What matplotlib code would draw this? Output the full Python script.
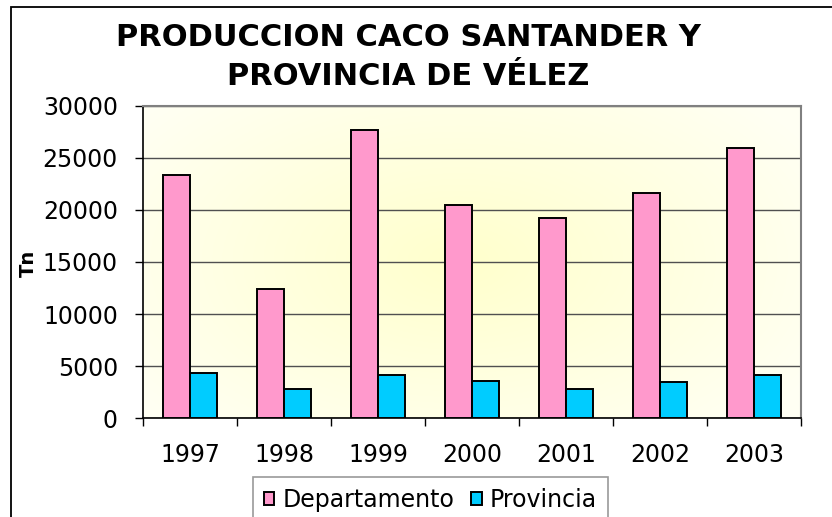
import numpy as np
import matplotlib
matplotlib.use("Agg")
import matplotlib.pyplot as plt
from matplotlib.patches import Rectangle

# data
years = ["1997", "1998", "1999", "2000", "2001", "2002", "2003"]
departamento = [23400, 12400, 27700, 20500, 19200, 21600, 26000]
provincia = [4300, 2750, 4150, 3600, 2750, 3450, 4150]
yticks = [0, 5000, 10000, 15000, 20000, 25000, 30000]

W, H = 832, 517
plt.rcParams['font.family'] = ['DejaVu Sans']

fig = plt.figure(figsize=(W / 100, H / 100), dpi=100)
fig.patch.set_facecolor('white')

# outer chart frame (runs off the right and bottom edges)
fig.patches.append(Rectangle((10.5 / W, -0.2), 1.2, 1.2 - 7 / H, transform=fig.transFigure,
                             fill=False, edgecolor='black', lw=1.3))

ax = fig.add_axes([143 / W, (H - 418) / H, 658 / W, 312 / H])

# soft radial yellow background of the plot area
gx, gy = np.meshgrid(np.linspace(0, 1, 300), np.linspace(0, 1, 200))
r = np.sqrt(((gx - 0.48) / 0.62) ** 2 + ((gy - 0.5) / 0.75) ** 2)
r = np.clip(r, 0, 1)
c0 = np.array([1.0, 1.0, 0.80])
c1 = np.array([1.0, 1.0, 0.955])
img = c0[None, None, :] * (1 - r[..., None]) + c1[None, None, :] * r[..., None]
ax.imshow(img, extent=[0, 1, 0, 1], transform=ax.transAxes, aspect='auto', zorder=0)

x = np.arange(len(years))
bw = 0.29
ax.bar(x - bw / 2, departamento, bw, color='#FF99CC', edgecolor='black', lw=1.4,
       label='Departamento', zorder=3)
ax.bar(x + bw / 2, provincia, bw, color='#00CCFF', edgecolor='black', lw=1.4,
       label='Provincia', zorder=3)

ax.set_xlim(-0.5, len(years) - 0.5)
ax.set_ylim(0, 30000)
ax.set_yticks(yticks)
ax.set_yticklabels([str(v) for v in yticks])
ax.yaxis.grid(True, color='#505050', lw=1.0, zorder=1)
ax.set_axisbelow(True)

ax.set_xticks(x)
ax.set_xticklabels(years)
ax.set_xticks(np.arange(-0.5, len(years)), minor=True)
ax.tick_params(axis='x', which='major', length=0, pad=18, labelsize=17)
ax.tick_params(axis='x', which='minor', length=6, width=1.0, color='black')
ax.tick_params(axis='y', length=6, width=1.0, pad=12, labelsize=17)

for s in ['top', 'right']:
    ax.spines[s].set_color('#808080')
    ax.spines[s].set_linewidth(1.5)
for s in ['left', 'bottom']:
    ax.spines[s].set_color('black')
    ax.spines[s].set_linewidth(1.2)

fig.text(28 / W, 1 - 263 / H, 'Tn', rotation=90, fontsize=14, fontweight='bold',
         ha='center', va='center')

fig.text(408 / W, 1 - 57 / H, 'PRODUCCION CACO SANTANDER Y\nPROVINCIA DE VÉLEZ',
         fontsize=22, fontweight='bold', ha='center', va='center', linespacing=1.4)

leg = fig.legend(loc='upper left', bbox_to_anchor=(253 / W, 1 - 477 / H), ncol=2,
                 fontsize=17, frameon=True, fancybox=False, borderaxespad=0,
                 handlelength=0.45, handleheight=0.45, handletextpad=0.35,
                 columnspacing=0.7, borderpad=0.45)
leg.get_frame().set_edgecolor('#808080')
leg.get_frame().set_linewidth(1.2)

fig.savefig('out.png', dpi=100)
